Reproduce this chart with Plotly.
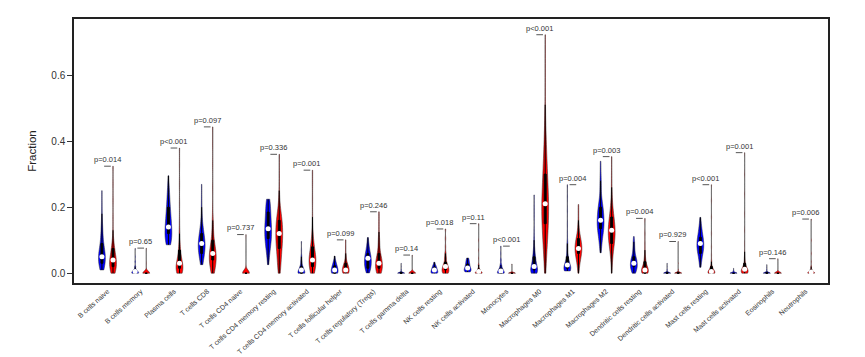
import numpy as np
import plotly.graph_objects as go

cell_types = ["B cells naive", "B cells memory", "Plasma cells", "T cells CD8", "T cells CD4 naive",
              "T cells CD4 memory resting", "T cells CD4 memory activated", "T cells follicular helper",
              "T cells regulatory (Tregs)", "T cells gamma delta", "NK cells resting", "NK cells activated",
              "Monocytes", "Macrophages M0", "Macrophages M1", "Macrophages M2", "Dendritic cells resting",
              "Dendritic cells activated", "Mast cells resting", "Mast cells activated", "Eosinophils",
              "Neutrophils"]

p_labels = ["p=0.014", "p=0.65", "p<0.001", "p=0.097", "p=0.737", "p=0.336", "p=0.001", "p=0.099",
            "p=0.246", "p=0.14", "p=0.018", "p=0.11", "p<0.001", "p<0.001", "p=0.004", "p=0.003",
            "p=0.004", "p=0.929", "p<0.001", "p=0.001", "p=0.146", "p=0.006"]

# Normal group (blue): fraction values and how many samples sit at each value
normal_values = [
    [0.01, 0.03, 0.05, 0.07, 0.09, 0.11, 0.13, 0.15, 0.18, 0.21, 0.25],
    [0.0, 0.005, 0.01, 0.02, 0.035, 0.05, 0.075],
    [0.086, 0.10, 0.12, 0.14, 0.16, 0.18, 0.20, 0.22, 0.24, 0.265, 0.295],
    [0.026, 0.04, 0.06, 0.08, 0.10, 0.12, 0.14, 0.17, 0.20, 0.23, 0.269],
    [0.0],
    [0.026, 0.045, 0.065, 0.085, 0.105, 0.125, 0.145, 0.165, 0.185, 0.205, 0.224],
    [0.0, 0.01, 0.02, 0.035, 0.05, 0.07, 0.096],
    [0.0, 0.01, 0.02, 0.03, 0.04, 0.052],
    [0.001, 0.015, 0.03, 0.045, 0.06, 0.075, 0.09, 0.108],
    [0.0, 0.003, 0.01, 0.02, 0.03],
    [0.0, 0.005, 0.01, 0.015, 0.02, 0.025, 0.033],
    [0.004, 0.01, 0.016, 0.022, 0.028, 0.034, 0.04, 0.046],
    [0.0, 0.007, 0.015, 0.025, 0.04, 0.06, 0.082],
    [0.0, 0.01, 0.02, 0.035, 0.05, 0.07, 0.10, 0.13, 0.17, 0.20, 0.237],
    [0.007, 0.015, 0.025, 0.035, 0.05, 0.07, 0.09, 0.12, 0.15, 0.19, 0.23, 0.268],
    [0.062, 0.08, 0.10, 0.12, 0.14, 0.16, 0.18, 0.20, 0.22, 0.25, 0.28, 0.31, 0.339],
    [0.0, 0.01, 0.02, 0.03, 0.04, 0.05, 0.065, 0.08, 0.095, 0.111],
    [0.0, 0.003, 0.01, 0.02, 0.03],
    [0.018, 0.03, 0.045, 0.06, 0.075, 0.09, 0.105, 0.12, 0.135, 0.15, 0.169],
    [0.0, 0.003, 0.008, 0.015],
    [0.0, 0.003, 0.01, 0.018, 0.026],
    [0.0],
]
normal_counts = [
    [5, 9, 10, 7, 4, 3, 2, 2, 1, 1, 1],
    [15, 10, 6, 3, 2, 1, 1],
    [4, 7, 8, 7, 6, 5, 4, 3, 3, 2, 1],
    [2, 4, 7, 9, 8, 5, 4, 2, 1, 1, 1],
    [30],
    [1, 2, 3, 5, 6, 7, 6, 5, 5, 4, 4],
    [14, 8, 5, 3, 2, 1, 1],
    [8, 8, 6, 4, 2, 1],
    [3, 6, 7, 7, 5, 3, 2, 1],
    [25, 5, 2, 1, 1],
    [8, 7, 6, 5, 4, 3, 2],
    [6, 8, 5, 4, 4, 3, 3, 2],
    [12, 8, 5, 3, 2, 1, 1],
    [8, 8, 6, 5, 4, 3, 2, 1, 1, 1, 1],
    [8, 8, 6, 4, 3, 2, 2, 1, 1, 1, 1, 1],
    [1, 2, 3, 5, 7, 7, 6, 5, 3, 2, 2, 1, 1],
    [3, 5, 6, 6, 5, 4, 3, 2, 2, 1],
    [22, 6, 2, 1, 1],
    [1, 2, 3, 5, 7, 7, 6, 4, 3, 2, 1],
    [25, 4, 2, 1],
    [22, 6, 2, 1, 1],
    [30],
]

# Tumor group (red)
tumor_values = [
    [0.0, 0.02, 0.04, 0.06, 0.08, 0.10, 0.13, 0.17, 0.22, 0.27, 0.324],
    [0.0, 0.003, 0.03, 0.076],
    [0.0, 0.015, 0.03, 0.05, 0.07, 0.09, 0.12, 0.16, 0.21, 0.27, 0.33, 0.379],
    [0.0, 0.02, 0.04, 0.06, 0.08, 0.10, 0.13, 0.16, 0.20, 0.26, 0.33, 0.39, 0.443],
    [0.0, 0.004, 0.117],
    [0.0, 0.02, 0.04, 0.06, 0.08, 0.10, 0.12, 0.14, 0.16, 0.18, 0.21, 0.25, 0.30, 0.36],
    [0.0, 0.02, 0.04, 0.06, 0.08, 0.10, 0.13, 0.17, 0.22, 0.27, 0.312],
    [0.0, 0.01, 0.02, 0.03, 0.045, 0.06, 0.08, 0.101],
    [0.0, 0.015, 0.03, 0.045, 0.06, 0.08, 0.10, 0.125, 0.155, 0.186],
    [0.0, 0.055],
    [0.0, 0.01, 0.02, 0.03, 0.045, 0.06, 0.08, 0.105, 0.134],
    [0.0, 0.005, 0.012, 0.025, 0.045, 0.07, 0.10, 0.15],
    [0.0, 0.003, 0.028],
    [0.0, 0.03, 0.06, 0.09, 0.12, 0.15, 0.18, 0.21, 0.24, 0.27, 0.30, 0.33, 0.36, 0.40, 0.45, 0.51,
     0.58, 0.65, 0.722],
    [0.0, 0.015, 0.03, 0.045, 0.06, 0.075, 0.09, 0.105, 0.12, 0.14, 0.16, 0.185, 0.208],
    [0.0, 0.03, 0.05, 0.07, 0.09, 0.11, 0.13, 0.15, 0.17, 0.19, 0.22, 0.26, 0.30, 0.353],
    [0.0, 0.01, 0.02, 0.035, 0.05, 0.07, 0.09, 0.12, 0.166],
    [0.0, 0.003, 0.01, 0.03, 0.096],
    [0.0, 0.005, 0.012, 0.02, 0.035, 0.055, 0.08, 0.12, 0.17, 0.22, 0.268],
    [0.0, 0.006, 0.012, 0.02, 0.03, 0.045, 0.065, 0.09, 0.13, 0.18, 0.24, 0.30, 0.365],
    [0.0, 0.002, 0.044],
    [0.0, 0.004, 0.01, 0.02, 0.035, 0.06, 0.10, 0.164],
]
tumor_counts = [
    [6, 10, 10, 6, 4, 2, 1, 1, 1, 1, 1],
    [30, 2, 1, 1],
    [8, 10, 8, 5, 3, 2, 2, 1, 1, 1, 1, 1],
    [4, 7, 9, 9, 6, 4, 3, 2, 1, 1, 1, 1, 1],
    [30, 3, 1],
    [2, 3, 3, 4, 5, 6, 6, 6, 5, 4, 2, 1, 1, 1],
    [5, 8, 9, 7, 4, 3, 2, 1, 1, 1, 1],
    [8, 8, 6, 4, 2, 1, 1, 1],
    [5, 7, 7, 5, 3, 2, 2, 1, 1, 1],
    [30, 1],
    [7, 8, 6, 4, 3, 2, 1, 1, 1],
    [14, 6, 4, 2, 1, 1, 1, 1],
    [30, 1, 1],
    [1, 2, 3, 4, 5, 6, 7, 7, 6, 5, 4, 4, 3, 3, 2, 1, 1, 1, 1],
    [1, 2, 3, 5, 7, 8, 7, 5, 3, 2, 1, 1, 1],
    [1, 1, 2, 3, 5, 7, 7, 6, 4, 3, 2, 1, 1, 1],
    [10, 9, 6, 3, 2, 1, 1, 1, 1],
    [22, 6, 2, 1, 1],
    [14, 8, 5, 3, 2, 1, 1, 1, 1, 1, 1],
    [10, 10, 8, 5, 3, 2, 1, 1, 1, 1, 1, 1, 1],
    [28, 2, 1],
    [14, 8, 4, 2, 1, 1, 1, 1],
]

FONT = "Liberation Sans, Arial, sans-serif"


def bandwidth(x):
    n = len(x)
    sd = float(np.std(x, ddof=1)) if n > 1 else 0.0
    q75, q25 = np.percentile(x, [75, 25])
    iqr = q75 - q25
    lo = min(sd, iqr / 1.34) if iqr > 0 else sd
    return max(0.9 * lo * n ** -0.2, 0.002)


fig = go.Figure()
med_x, med_y = [], []
br_x, br_y = [], []
annotations = []

for i, name in enumerate(cell_types):
    groups = [
        (np.repeat(normal_values[i], normal_counts[i]), "#0000FF", 3 * i),
        (np.repeat(tumor_values[i], tumor_counts[i]), "#FF0000", 3 * i + 1),
    ]
    for samples, color, pos in groups:
        if np.ptp(samples) > 0:
            fig.add_trace(go.Violin(
                x=[pos] * len(samples), y=samples,
                width=0.62, scalemode="width", spanmode="hard",
                bandwidth=bandwidth(samples),
                fillcolor=color, line=dict(color="#2a2a2a", width=0.5), opacity=1,
                points=False,
                box=dict(visible=True, width=0.28, fillcolor="black",
                         line=dict(color="black", width=1)),
                meanline=dict(visible=False),
                hoverinfo="skip", showlegend=False,
            ))
        m = float(np.median(samples))
        if m > 0:
            med_x.append(pos)
            med_y.append(m)
    mx = float(max(np.max(groups[0][0]), np.max(groups[1][0])))
    br_x += [3 * i + 0.2, 3 * i + 0.8, None]
    br_y += [mx, mx, None]
    annotations.append(dict(x=3 * i + 0.5, y=mx + 0.02, text=p_labels[i], showarrow=False,
                            xanchor="center", yanchor="middle",
                            font=dict(family=FONT, size=7.5, color="#333333")))

fig.add_trace(go.Scatter(x=br_x, y=br_y, mode="lines", line=dict(color="#555555", width=1),
                         hoverinfo="skip", showlegend=False))
fig.add_trace(go.Scatter(x=med_x, y=med_y, mode="markers",
                         marker=dict(color="white", size=5, line=dict(width=0)),
                         hoverinfo="skip", showlegend=False))

fig.update_layout(
    width=865, height=357,
    margin=dict(l=66, r=45, t=9, b=74),
    paper_bgcolor="white", plot_bgcolor="white",
    violinmode="overlay",
    annotations=annotations,
    font=dict(family=FONT, color="#333333"),
    xaxis=dict(range=[-2.52, 65.52], tickmode="array",
               tickvals=[3 * i + 0.5 for i in range(len(cell_types))], ticktext=cell_types,
               tickangle=-42, tickfont=dict(size=7, color="#333333"), ticks="",
               showline=True, mirror=True, linecolor="#222222", linewidth=1.5,
               showgrid=False, zeroline=False),
    yaxis=dict(range=[-0.0296, 0.7696], tickmode="array", tickvals=[0, 0.2, 0.4, 0.6],
               ticktext=["0.0", "0.2", "0.4", "0.6"], ticks="outside", ticklen=5,
               tickcolor="#333333", tickfont=dict(size=10, color="#333333"),
               title=dict(text="Fraction", font=dict(size=11.5, color="#222222"), standoff=12),
               showline=True, mirror=True, linecolor="#222222", linewidth=1.5,
               showgrid=False, zeroline=False),
)

fig.write_html("out.html")
